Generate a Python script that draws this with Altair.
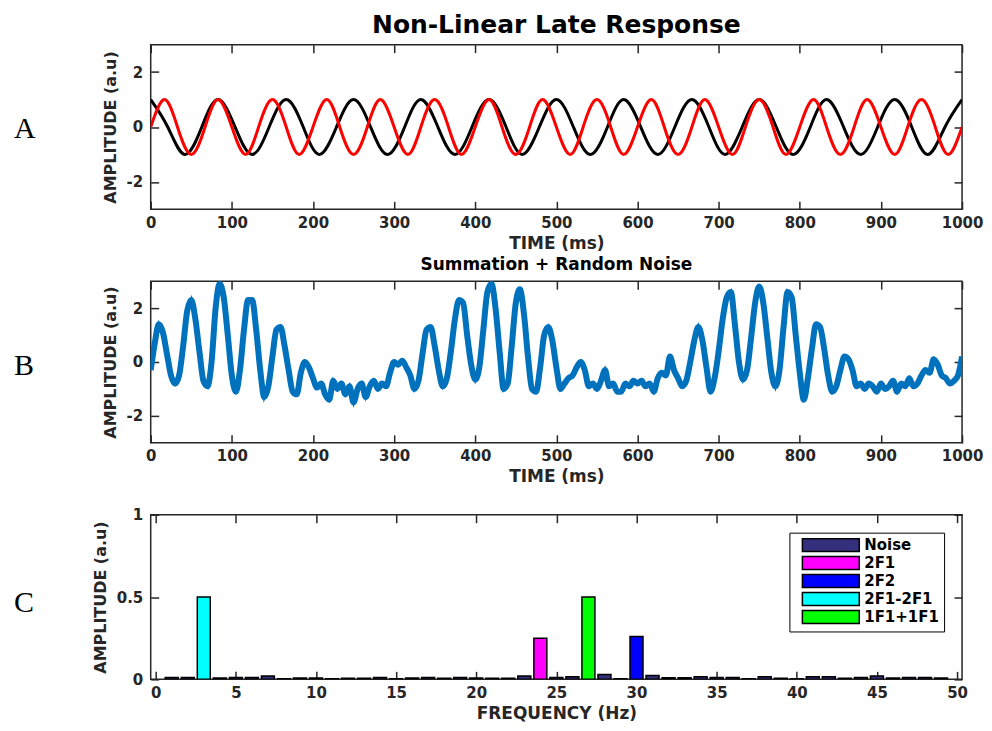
import altair as alt
import pandas as pd

# ---------------- Panel A: the two input oscillations ----------------
black_t = [0, 21, 42, 63, 83, 104, 125, 146, 167, 188, 208, 229, 250, 271, 292, 313,
           333, 354, 375, 396, 417, 438, 458, 479, 500, 521, 542, 563, 583, 604, 625,
           646, 667, 688, 708, 729, 750, 771, 792, 813, 833, 854, 875, 896, 917, 938,
           958, 979, 1000]
black_v = [1, 0, -1, 0, 1, 0, -1, 0, 1, 0, -1, 0, 1, 0, -1, 0,
           1, 0, -1, 0, 1, 0, -1, 0, 1, 0, -1, 0, 1, 0, -1,
           0, 1, 0, -1, 0, 1, 0, -1, 0, 1, 0, -1, 0, 1, 0,
           -1, 0, 1]
red_t = [0, 17, 33, 50, 67, 83, 100, 117, 133, 150, 167, 183, 200, 217, 233, 250,
         267, 283, 300, 317, 333, 350, 367, 383, 400, 417, 433, 450, 467, 483, 500,
         517, 533, 550, 567, 583, 600, 617, 633, 650, 667, 683, 700, 717, 733, 750,
         767, 783, 800, 817, 833, 850, 867, 883, 900, 917, 933, 950, 967, 983, 1000]
red_v = [0, 1, 0, -1, 0, 1, 0, -1, 0, 1, 0, -1, 0, 1, 0, -1,
         0, 1, 0, -1, 0, 1, 0, -1, 0, 1, 0, -1, 0, 1, 0,
         -1, 0, 1, 0, -1, 0, 1, 0, -1, 0, 1, 0, -1, 0, 1,
         0, -1, 0, 1, 0, -1, 0, 1, 0, -1, 0, 1, 0, -1, 0]

# ---------------- Panel B: summation + random noise (read every 5 ms) ----------------
noisy_t = list(range(0, 1001, 5))
noisy_v = [
    -0.3, 0.7, 1.4, 1.1, 0.3, -0.5, -0.8, -0.5, 0.6, 1.9, 2.3, 1.6, 0.4, -0.7, -0.9, 0.0, 2.0, 2.9, 2.4, 1.0,
    -0.5, -1.1, -0.3, 1.2, 2.3, 2.3, 1.2, -0.3, -1.3, -0.9, 0.2, 1.2, 1.3, 0.6, -0.3, -1.1, -1.2, -0.4, 0.0, -0.2,
    -0.6, -0.95, -0.8, -1.2, -1.4, -0.7, -1.0, -0.8, -1.2, -0.9, -1.5, -1.0, -0.8, -1.3, -0.9, -0.7, -1.0, -0.8, -0.9, -0.4,
    0.0, -0.1, 0.05, -0.2, -0.5, -1.0, -0.7, 0.3, 1.2, 1.3, 0.6, -0.3, -0.9, -0.6, 0.4, 1.6, 2.3, 2.2, 1.0, -0.1,
    -0.65, -0.2, 1.2, 2.6, 2.9, 2.0, 0.4, -1.0, -0.8, 0.6, 2.2, 2.7, 1.8, 0.2, -1.0, -1.1, -0.2, 1.0, 1.3, 0.8,
    -0.2, -1.0, -0.8, -0.6, -0.5, -0.2, 0.0, -0.3, -0.9, -0.8, -1.0, -0.7, -0.3, -0.9, -0.8, -1.1, -1.1, -0.8, -0.9, -0.7,
    -0.8, -0.7, -0.9, -0.8, -1.1, -0.6, -0.4, -0.5, 0.2, -0.3, -0.6, -0.9, -0.7, 0.0, 0.8, 1.3, 0.8, -0.2, -1.1, -0.6,
    0.4, 1.6, 2.4, 2.6, 1.4, 0.0, -0.65, -0.3, 0.9, 2.2, 2.8, 2.2, 0.9, -0.4, -0.9, -0.3, 1.3, 2.6, 2.4, 1.0,
    -0.4, -1.4, -0.6, 0.5, 1.4, 1.3, 0.5, -0.5, -1.1, -0.9, -0.3, 0.2, 0.1, -0.3, -0.9, -0.8, -1.0, -0.8, -0.9, -1.1,
    -0.8, -1.0, -0.9, -0.7, -1.1, -0.8, -0.9, -0.6, -0.9, -0.8, -0.5, -0.3, -0.4, 0.1, -0.1, -0.5, -0.6, -0.8, -0.7, -0.5,
    0.2,
]

# ---------------- Panel C: spectrum ----------------
freq = [1, 2, 3, 4, 5, 6, 7, 8, 9, 10, 11, 12, 13, 14, 15, 16, 17, 18, 19, 20, 21, 22, 23,
        24, 25, 26, 27, 28, 29, 30, 31, 32, 33, 34, 35, 36, 37, 38, 39, 40, 41, 42, 43,
        44, 45, 46, 47, 48, 49]
amp = [0.012, 0.012, 0.5, 0.008, 0.012, 0.012, 0.02, 0.004, 0.008, 0.008, 0.004, 0.006,
       0.006, 0.012, 0.004, 0.008, 0.012, 0.006, 0.012, 0.008, 0.006, 0.006, 0.02,
       0.25, 0.012, 0.016, 0.5, 0.03, 0.004, 0.26, 0.024, 0.01, 0.01, 0.016, 0.012,
       0.012, 0.004, 0.016, 0.006, 0.004, 0.016, 0.016, 0.006, 0.012, 0.02, 0.008,
       0.012, 0.012, 0.008]
comp = (["Noise", "Noise", "2F1-2F1"] + ["Noise"] * 20 + ["2F1", "Noise", "Noise", "1F1+1F1",
        "Noise", "Noise", "2F2"] + ["Noise"] * 19)

legend_order = ["Noise", "2F1", "2F2", "2F1-2F1", "1F1+1F1"]
legend_colors = ["#35307d", "#ff00ff", "#0000ff", "#00ffff", "#00ff00"]

time_ticks = [0, 100, 200, 300, 400, 500, 600, 700, 800, 900, 1000]
amp_ticks = [-2, 0, 2]
freq_ticks = [0, 5, 10, 15, 20, 25, 30, 35, 40, 45, 50]
spec_ticks = [0, 0.5, 1]

FONT = "DejaVu Sans"
INK = "#262626"
TICK = 8
W = 813
HA, HB, HC = 165, 162, 165
GAP = 72

df_black = pd.DataFrame({"t": black_t, "v": black_v})
df_red = pd.DataFrame({"t": red_t, "v": red_v})
df_noisy = pd.DataFrame({"t": noisy_t, "v": noisy_v})
df_spec = pd.DataFrame({"f": freq, "a": amp, "c": comp})


def bottom_axis(title, values):
    return alt.Axis(orient="bottom", values=values, title=title, offset=-TICK, tickSize=TICK,
                    labelPadding=6, titlePadding=5, domain=False, grid=False,
                    labelExpr="'' + datum.value", labelFlush=False, labelOverlap=False)


def left_axis(values):
    return alt.Axis(orient="left", values=values, title="AMPLITUDE (a.u)", offset=-TICK,
                    tickSize=TICK, labelPadding=8, titlePadding=8, domain=False, grid=False,
                    labelExpr="'' + datum.value", titleFontSize=16, labelOverlap=False)


def top_axis(values):
    return alt.Axis(orient="top", values=values, title=None, labels=False, offset=-TICK,
                    tickSize=TICK, domain=False, grid=False)


def right_axis(values):
    return alt.Axis(orient="right", values=values, title=None, labels=False, offset=-TICK,
                    tickSize=TICK, domain=False, grid=False)


def letter(s, y):
    return alt.Chart(pd.DataFrame({"s": [s]})).mark_text(
        font="Liberation Serif", fontSize=30, align="left", baseline="alphabetic", color="black"
    ).encode(text="s:N", x=alt.value(-137), y=alt.value(y))


def frame_ticks(df, x, y, xs, ys, xv, yv):
    return alt.Chart(df).mark_point(opacity=0).encode(
        x=alt.X(x, scale=xs, axis=top_axis(xv)),
        y=alt.Y(y, scale=ys, axis=right_axis(yv)),
    )


xs_time = alt.Scale(domain=[0, 1000], nice=False, zero=False)
ys_amp = alt.Scale(domain=[-3, 3], nice=False, zero=False)

# ---- Panel A
lineA_black = alt.Chart(df_black).mark_line(color="black", strokeWidth=3, interpolate="natural", clip=True).encode(
    x=alt.X("t:Q", scale=xs_time, axis=bottom_axis("TIME (ms)", time_ticks)),
    y=alt.Y("v:Q", scale=ys_amp, axis=left_axis(amp_ticks)),
)
lineA_red = alt.Chart(df_red).mark_line(color="#ff0000", strokeWidth=3, interpolate="natural", clip=True).encode(
    x=alt.X("t:Q", scale=xs_time, axis=None),
    y=alt.Y("v:Q", scale=ys_amp, axis=None),
)
panelA = alt.layer(
    lineA_black, lineA_red,
    frame_ticks(df_black, "t:Q", "v:Q", xs_time, ys_amp, time_ticks, amp_ticks),
    letter("A", 94),
).resolve_axis(x="independent", y="independent").properties(
    width=W, height=HA,
    title=alt.TitleParams("Non-Linear Late Response", font=FONT, fontSize=25, fontWeight="bold",
                          color="black", anchor="middle", frame="group", offset=6),
)

# ---- Panel B
lineB_smooth = alt.Chart(df_noisy).mark_line(color="#0072bd", strokeWidth=6, strokeJoin="round",
                                             interpolate="monotone", clip=True).encode(
    x=alt.X("t:Q", scale=xs_time, axis=bottom_axis("TIME (ms)", time_ticks)),
    y=alt.Y("v:Q", scale=ys_amp, axis=left_axis(amp_ticks)),
)
lineB_jag = alt.Chart(df_noisy).mark_line(color="#0072bd", strokeWidth=3, clip=True).encode(
    x=alt.X("t:Q", scale=xs_time, axis=None),
    y=alt.Y("v:Q", scale=ys_amp, axis=None),
)
panelB = alt.layer(
    lineB_smooth, lineB_jag,
    frame_ticks(df_noisy, "t:Q", "v:Q", xs_time, ys_amp, time_ticks, amp_ticks),
    letter("B", 94),
).resolve_axis(x="independent", y="independent").properties(
    width=W, height=HB,
    title=alt.TitleParams("Summation + Random Noise", font=FONT, fontSize=17, fontWeight="bold",
                          color="black", anchor="middle", frame="group", offset=6),
)

# ---- Panel C
xs_f = alt.Scale(domain=[0, 50], nice=False, zero=False)
ys_s = alt.Scale(domain=[0, 1], nice=False)
bars = alt.Chart(df_spec).mark_bar(size=13, stroke="black", strokeWidth=1.5, clip=True).encode(
    x=alt.X("f:Q", scale=xs_f, axis=bottom_axis("FREQUENCY (Hz)", freq_ticks)),
    y=alt.Y("a:Q", scale=ys_s, axis=left_axis(spec_ticks)),
    color=alt.Color("c:N", scale=alt.Scale(domain=legend_order, range=legend_colors),
                    legend=alt.Legend(title=None, orient="none", legendX=640,
                                      legendY=HA + GAP + HB + GAP + 18,
                                      symbolType="M0.08,-1H8.85V1H0.08Z", symbolSize=169,
                                      symbolStrokeColor="black", symbolStrokeWidth=1.5,
                                      symbolOpacity=1, labelFont=FONT, labelFontSize=15,
                                      labelFontWeight="bold", labelColor="black",
                                      labelOffset=55, strokeColor="black", fillColor="white",
                                      padding=5, rowPadding=-1)),
)
panelC = alt.layer(
    bars,
    frame_ticks(df_spec, "f:Q", "a:Q", xs_f, ys_s, freq_ticks, spec_ticks),
    letter("C", 98),
).resolve_axis(x="independent", y="independent").properties(width=W, height=HC)

chart = alt.vconcat(panelA, panelB, panelC, spacing=GAP, bounds="flush").properties(
    padding={"left": 5, "top": 3, "right": 0, "bottom": 0}
).configure_view(stroke=INK, strokeWidth=1.5).configure_axis(
    labelFont=FONT, labelFontSize=15, labelFontWeight="bold", labelColor=INK,
    titleFont=FONT, titleFontSize=17, titleFontWeight="bold", titleColor=INK,
    tickColor=INK, tickWidth=1.5,
)

chart.save("out.html", embed_options={"renderer": "svg", "actions": False})
